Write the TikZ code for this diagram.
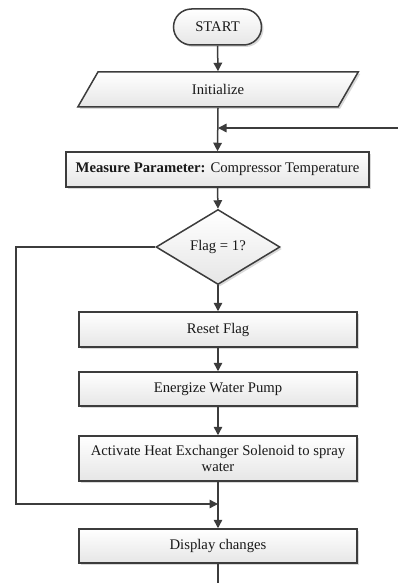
\documentclass[tikz,border=0pt]{standalone}
\usepackage{fontspec}
\setmainfont{Liberation Serif}
\usetikzlibrary{shapes.geometric,shapes.misc,arrows.meta,shadows}
\definecolor{ln}{HTML}{3C3C3C}
\definecolor{fbot}{HTML}{E6E6E6}
\begin{document}
\begin{tikzpicture}[x=1pt,y=-1pt,
  font=\fontsize{14.7}{17}\selectfont,
  every node/.style={text=black!90},
  shp/.style={draw=ln, line width=1.5pt, top color=white, bottom color=fbot,
     drop shadow={shadow xshift=2pt, shadow yshift=-2pt, fill=black, opacity=0.15},
     inner sep=0pt, align=center},
  boxstep/.style={shp, rectangle, minimum width=278pt},
  conn/.style={draw=ln, line width=1.5pt},
  arr/.style={conn, -{Triangle[length=8.5pt,width=8.5pt]}}
]
\useasboundingbox (0,0) rectangle (398,583);
\node[shp, rounded rectangle, minimum width=88pt, minimum height=36pt] (start) at (217.5,27) {START};
\node[shp, trapezium, trapezium left angle=67, trapezium right angle=113,
      trapezium stretches=true, minimum width=282pt, minimum height=35pt] (init) at (218,89.5) {Initialize};
\node[boxstep, minimum width=303pt, minimum height=35pt] (meas) at (217.5,169.5) {\textbf{Measure Parameter:} Compressor Temperature};
\node[shp, diamond, minimum width=124pt, minimum height=75pt] (flag) at (218,247) {Flag = 1?};
\node[boxstep, minimum height=35pt] (reset) at (218,329.5) {Reset Flag};
\node[boxstep, minimum height=34pt] (pump) at (218,389) {Energize Water Pump};
\node[boxstep, minimum height=45pt] (act) at (218,458.5) {Activate Heat Exchanger Solenoid to spray\\[-1pt]water};
\node[boxstep, minimum height=34pt] (disp) at (218,546) {Display changes};

\coordinate (rin) at (398,128);
\coordinate (jin) at (218,128);
\coordinate (lc1) at (16,247);
\coordinate (lc2) at (16,504);
\coordinate (jout) at (218,504);
\coordinate (bend) at (218,583);

\draw[arr] (start.south) -- (init.north);
\draw[arr] (init.south) -- (meas.north);
\draw[arr] (rin) -- (jin);
\draw[arr] (meas.south) -- (flag.north);
\draw[arr] (flag.south) -- (reset.north);
\draw[arr] (reset.south) -- (pump.north);
\draw[arr] (pump.south) -- (act.north);
\draw[arr] (act.south) -- (disp.north);
\draw[arr] (flag.west) -- (lc1) -- (lc2) -- (jout);
\draw[conn] (disp.south) -- (bend);
\end{tikzpicture}
\end{document}
